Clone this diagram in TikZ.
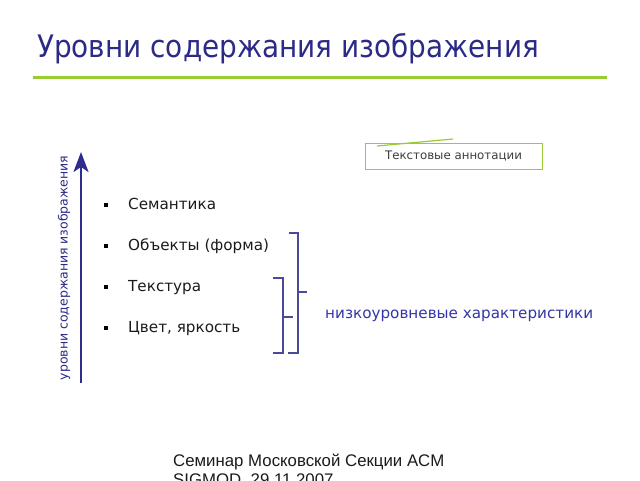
\documentclass[tikz,border=0pt]{standalone}
\usepackage{fontspec}
\setmainfont{DejaVu Sans}
\newfontfamily\titlefont{DejaVu Sans}[FakeStretch=0.9]
\newfontfamily\footfont{Liberation Sans}
\usetikzlibrary{arrows.meta}
\definecolor{ttl}{HTML}{2B2A86}
\definecolor{arr}{HTML}{2E2C8C}
\definecolor{brk}{HTML}{4A4A9A}
\definecolor{low}{HTML}{3434A8}
\definecolor{grn}{HTML}{99CC33}
\definecolor{txt}{HTML}{1A1A1A}
\tikzset{
  item/.style={anchor=base west, inner sep=0, text=txt, font=\fontsize{15.2}{18}\selectfont},
  bul/.style={fill=black, minimum size=4pt, inner sep=0},
  brace/.style={draw=brk, line width=1.3pt},
  foot/.style={anchor=base west, inner sep=0, text=txt, font=\footfont\fontsize{16.8}{19}\selectfont},
}
\begin{document}
\begin{tikzpicture}[x=1pt,y=-1pt]
\useasboundingbox (0,0) rectangle (640,480);
\clip (0,0) rectangle (640,480);
% title
\node[anchor=base west, inner sep=0, text=ttl, font=\titlefont\fontsize{31}{36}\selectfont] (title) at (37,57) {Уровни содержания изображения};
\coordinate (gl) at (33,77); \coordinate (gr) at (607,77);
\draw[grn, line width=3pt] (gl) -- (gr);
% annotation box
\node[draw=grn, line width=1pt, minimum width=177pt, minimum height=26pt, inner sep=0, font=\fontsize{11.8}{13}\selectfont, text=txt!85] (ann) at (453.5,156.5) {Текстовые аннотации};
\coordinate (sl1) at (377,146); \coordinate (sl2) at (453,139);
\draw[grn, line width=1.2pt] (sl1) -- (sl2);
% arrow
\coordinate (ab) at (81,383); \coordinate (at) at (81,152);
\draw[arr, line width=2.5pt, -{Stealth[length=20pt, width=15pt, inset=5pt]}] (ab) -- (at);
\node[rotate=90, inner sep=0, text=ttl, font=\fontsize{12.5}{14}\selectfont] (axl) at (64,268) {уровни содержания изображения};
% items
\node[item] (i1) at (128,209) {Семантика};
\node[item] (i2) at (128,250) {Объекты (форма)};
\node[item] (i3) at (128,291) {Текстура};
\node[item] (i4) at (128,332) {Цвет, яркость};
\node[bul] (b1) at (106,204.5) {};
\node[bul] (b2) at (106,245.5) {};
\node[bul] (b3) at (106,286.5) {};
\node[bul] (b4) at (106,327.5) {};
% braces
\coordinate (B1t) at (289,233); \coordinate (B1b) at (288,353); \coordinate (B1m) at (307,292);
\draw[brace] (B1t) -- (298,233) -- (298,353) -- (B1b);
\draw[brace] (298,292) -- (B1m);
\coordinate (B2t) at (273,278); \coordinate (B2b) at (273,353); \coordinate (B2m) at (293,317);
\draw[brace] (B2t) -- (283,278) -- (283,353) -- (B2b);
\draw[brace] (283,317) -- (B2m);
\node[anchor=base west, inner sep=0, text=low, font=\fontsize{15.2}{18}\selectfont] (lowl) at (325,318) {низкоуровневые характеристики};
% footer
\node[foot] (foot1) at (173,466) {Семинар Московской Секции ACM};
\node[foot] (foot2) at (173,485) {SIGMOD, 29.11.2007};
\end{tikzpicture}
\end{document}
